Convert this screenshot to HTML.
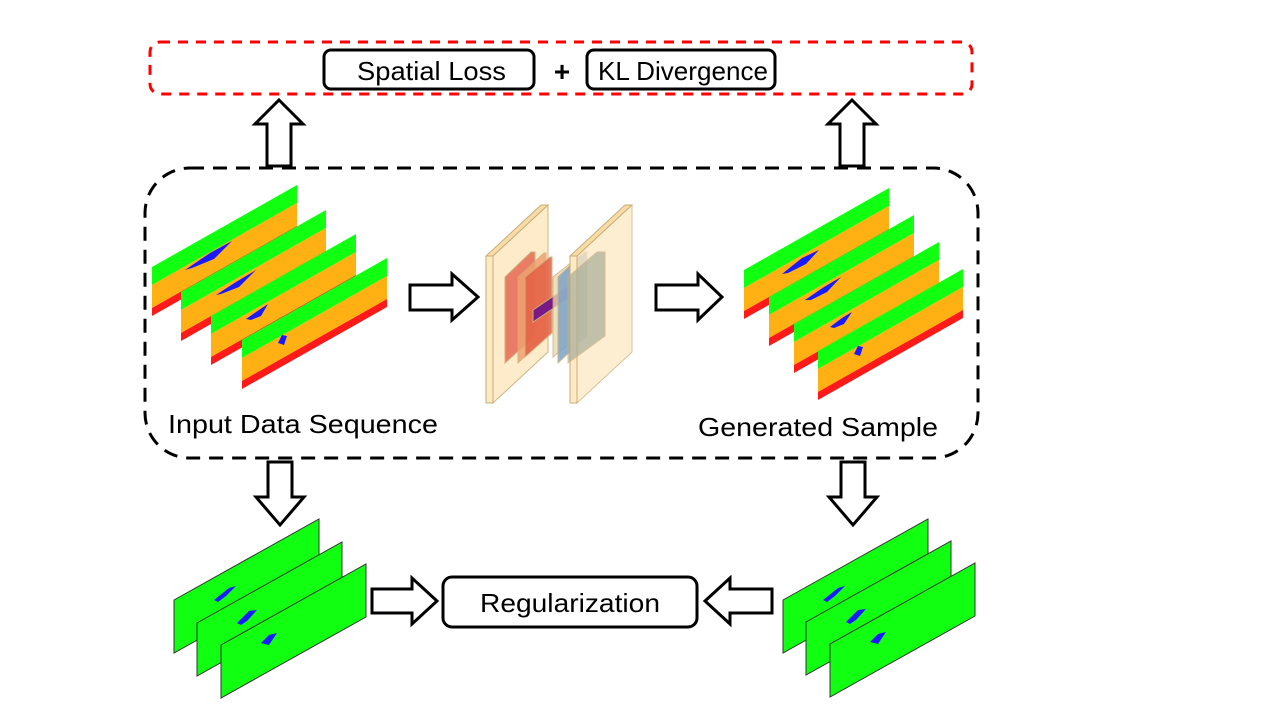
<!DOCTYPE html>
<html><head><meta charset="utf-8"><style>
html,body{margin:0;padding:0;background:#fff;}
svg{display:block;}
text{font-family:"Liberation Sans",sans-serif;fill:#000;}
</style></head><body>
<svg width="1280" height="720" viewBox="0 0 1280 720" xmlns="http://www.w3.org/2000/svg">
<defs>
<g id="slab">
<polygon points="0,0 145,-82 145,-64 0,18" fill="#11ff11"/>
<polygon points="0,18 145,-64 145,-41 0,41" fill="#ffb012"/>
<polygon points="0,41 145,-41 145,-33 0,49" fill="#ff1a1a"/>
</g>
<g id="gslab">
<polygon points="0,0 145,-81 145,-28 0,53" fill="#11ff11" stroke="#333" stroke-width="1"/>
</g>
</defs>

<rect x="150" y="42" width="822" height="52" rx="10" fill="none" stroke="#ff0000" stroke-width="3" stroke-dasharray="10,8"/>
<rect x="324" y="50" width="210" height="39" rx="7" fill="#fff" stroke="#000" stroke-width="3"/>
<text x="357" y="80" font-size="26" textLength="149" lengthAdjust="spacingAndGlyphs">Spatial Loss</text>
<text x="562" y="81" font-size="28" font-weight="bold" text-anchor="middle">+</text>
<rect x="587" y="50" width="188" height="39" rx="7" fill="#fff" stroke="#000" stroke-width="3"/>
<text x="598" y="80" font-size="26" textLength="170" lengthAdjust="spacingAndGlyphs">KL Divergence</text>

<rect x="145" y="168" width="833" height="290" rx="45" fill="none" stroke="#000" stroke-width="3" stroke-dasharray="14,9"/>

<g fill="#fff" stroke="#000" stroke-width="3" stroke-linejoin="miter">
<polygon points="279,100 303,124 291,124 291,166 267,166 267,124 255,124"/>
<polygon points="852,100 876,124 864,124 864,166 840,166 840,124 828,124"/>
<polygon points="410,285 452,285 452,274 478,297 452,320 452,310 410,310"/>
<polygon points="656,285 698,285 698,274 722,297 698,320 698,310 656,310"/>
<polygon points="268,462 292,462 292,497 304,497 280,525 256,497 268,497"/>
<polygon points="841,462 865,462 865,497 877,497 853,525 829,497 841,497"/>
<polygon points="372,589 412,589 412,578 437,601 412,624 412,613 372,613"/>
<polygon points="772,589 730,589 730,578 705,601 730,624 730,613 772,613"/>
</g>

<g transform="translate(152,267)"><use href="#slab"/><polygon points="33,3 58,-14 80,-26 62,-8 40,1" fill="#1a1aff"/></g>
<g transform="translate(181,292)"><use href="#slab"/><polygon points="35,3 55,-10 75,-22 58,-5 40,2" fill="#1a1aff"/></g>
<g transform="translate(211,316)"><use href="#slab"/><polygon points="35,3 48,-6 57,-12 50,0 40,4" fill="#1a1aff"/></g>
<g transform="translate(242,340)"><use href="#slab"/><polygon points="36,3 40,-5 45,-4 42,5" fill="#1a1aff"/></g>

<g transform="translate(744,270)"><use href="#slab"/><polygon points="38,4 58,-12 75,-20 62,-6 44,3" fill="#1a1aff"/></g>
<g transform="translate(769,297)"><use href="#slab"/><polygon points="36,3 55,-10 72,-20 58,-5 42,3" fill="#1a1aff"/></g>
<g transform="translate(794,324)"><use href="#slab"/><polygon points="36,3 48,-6 58,-12 50,0 40,4" fill="#1a1aff"/></g>
<g transform="translate(818,351)"><use href="#slab"/><polygon points="36,3 40,-5 45,-4 42,5" fill="#1a1aff"/></g>

<g stroke="#c9ad78" stroke-width="1">
<polygon points="486,256 541,205 548,205 493,256" fill="#f7dca8"/>
<polygon points="486,256 493,256 493,403 486,403" fill="#fde9c4"/>
<polygon points="493,256 548,205 548,352 493,403" fill="#fde9c4" opacity="0.9"/>
<polygon points="505,277 531,252 535,252 535,336 505,363" fill="#e8705a" opacity="0.9"/>
<polygon points="518,277 544,253 546,253 546,336 518,363" fill="#f4a070" opacity="0.85"/>
<polygon points="525,277 550,257 552,257 552,333 525,357" fill="#e56045" opacity="0.85"/>
<polygon points="533,310 570,285 570,297 533,322" fill="#7a1a86"/>
<polygon points="553,277 578,257 582,257 582,333 553,357" fill="#e8d9b0" opacity="0.8"/>
<polygon points="558,277 584,252 587,252 587,336 558,363" fill="#7ea3c8" opacity="0.85"/>
<polygon points="570,256 625,205 632,205 577,256" fill="#f7dca8"/>
<polygon points="570,256 577,256 577,403 570,403" fill="#fde9c4"/>
<polygon points="577,256 632,205 632,352 577,403" fill="#fde9c4" opacity="0.75"/>
<polygon points="568,277 597,252 605,252 605,336 568,363" fill="#a9ad98" opacity="0.7"/>
</g>

<text x="168" y="433" font-size="26" textLength="270" lengthAdjust="spacingAndGlyphs">Input Data Sequence</text>
<text x="698" y="436" font-size="26" textLength="240" lengthAdjust="spacingAndGlyphs">Generated Sample</text>

<g transform="translate(174,600)"><use href="#gslab"/><polygon points="40,0 55,-12 62,-14 52,-4 44,2" fill="#1a1aff"/></g>
<g transform="translate(197,623)"><use href="#gslab"/><polygon points="40,0 52,-12 60,-13 50,-2 44,2" fill="#1a1aff"/></g>
<g transform="translate(221,645)"><use href="#gslab"/><polygon points="40,-2 48,-10 56,-12 48,0" fill="#1a1aff"/></g>
<g transform="translate(783,600)"><use href="#gslab"/><polygon points="40,0 55,-12 62,-14 52,-4 44,2" fill="#1a1aff"/></g>
<g transform="translate(806,622)"><use href="#gslab"/><polygon points="40,0 52,-12 60,-13 50,-2 44,2" fill="#1a1aff"/></g>
<g transform="translate(830,644)"><use href="#gslab"/><polygon points="40,-2 48,-10 56,-12 48,0" fill="#1a1aff"/></g>

<rect x="443" y="577" width="254" height="50" rx="9" fill="#fff" stroke="#000" stroke-width="3"/>
<text x="480" y="612" font-size="26" textLength="180" lengthAdjust="spacingAndGlyphs">Regularization</text>
</svg>
</body></html>
